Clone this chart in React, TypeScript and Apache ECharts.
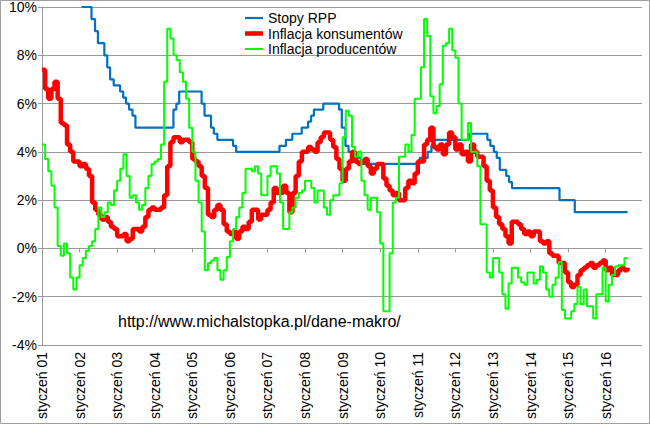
import React, { useEffect, useRef } from 'react';
import * as echarts from 'echarts';

// ---- data -------------------------------------------------------------
const startYear = 2001;

const yearLabels = [
  'styczeń 01', 'styczeń 02', 'styczeń 03', 'styczeń 04', 'styczeń 05', 'styczeń 06',
  'styczeń 07', 'styczeń 08', 'styczeń 09', 'styczeń 10', 'styczeń 11', 'styczeń 12',
  'styczeń 13', 'styczeń 14', 'styczeń 15', 'styczeń 16',
];

const seriesNames = ['Stopy RPP', 'Inflacja konsumentów', 'Inflacja producentów'];

// NBP reference rate: dates of change and new level (%)
const rateDates = [
  '2001-01-01', '2001-02-28', '2001-03-29', '2001-06-28', '2001-08-23', '2001-10-26', '2001-11-29',
  '2002-01-31', '2002-04-25', '2002-05-30', '2002-06-27', '2002-08-29', '2002-09-26', '2002-10-24',
  '2002-11-28', '2003-01-30', '2003-02-27', '2003-03-27', '2003-04-25', '2003-05-29', '2003-06-26',
  '2004-06-30', '2004-07-29', '2004-08-26', '2005-03-31', '2005-04-28', '2005-06-30', '2005-07-28',
  '2005-09-01', '2006-02-01', '2006-03-01', '2007-04-26', '2007-06-28', '2007-08-30', '2007-11-29',
  '2008-01-31', '2008-02-28', '2008-03-27', '2008-06-26', '2008-11-27', '2008-12-24', '2009-01-29',
  '2009-02-26', '2009-03-26', '2009-06-25', '2011-01-20', '2011-04-06', '2011-05-12', '2011-06-09',
  '2012-05-10', '2012-11-08', '2012-12-06', '2013-01-10', '2013-02-07', '2013-03-07', '2013-05-09',
  '2013-06-06', '2013-07-04', '2014-10-09', '2015-03-05', '2016-08-01',
];
const rateValues = [
  19.0, 18.0, 17.0, 15.5, 14.5, 13.0, 11.5,
  10.0, 9.5, 9.0, 8.5, 8.0, 7.5, 7.0,
  6.75, 6.5, 6.25, 6.0, 5.75, 5.5, 5.0,
  5.75, 6.0, 6.5, 6.0, 5.5, 5.0, 4.75,
  4.5, 4.25, 4.0, 4.25, 4.5, 4.75, 5.0,
  5.25, 5.5, 5.75, 6.0, 5.75, 5.0, 4.25,
  4.0, 3.75, 3.5, 3.75, 4.0, 4.25, 4.5,
  4.75, 4.5, 4.25, 4.0, 3.75, 3.25, 3.0,
  2.75, 2.5, 2.0, 1.5, 1.5,
];

// CPI y/y, monthly from January 2001
const cpi = [
  7.4, 6.6, 6.2, 6.6, 6.9, 6.2, 5.2, 5.1, 4.3, 4.0, 3.6, 3.6,
  3.4, 3.5, 3.3, 3.0, 1.9, 1.6, 1.4, 1.2, 1.3, 1.1, 0.9, 0.8,
  0.5, 0.5, 0.6, 0.3, 0.4, 0.8, 0.8, 0.7, 0.9, 1.3, 1.6, 1.7,
  1.6, 1.6, 1.7, 2.2, 3.4, 4.4, 4.6, 4.6, 4.4, 4.5, 4.5, 4.4,
  3.7, 3.6, 3.4, 3.0, 2.5, 1.4, 1.3, 1.6, 1.8, 1.6, 1.0, 0.7,
  0.6, 0.7, 0.4, 0.7, 0.9, 0.8, 1.1, 1.6, 1.6, 1.2, 1.4, 1.4,
  1.6, 1.9, 2.5, 2.3, 2.3, 2.6, 2.3, 1.5, 2.3, 3.0, 3.6, 4.0,
  4.0, 4.2, 4.1, 4.0, 4.4, 4.6, 4.8, 4.8, 4.5, 4.2, 3.7, 3.3,
  2.8, 3.3, 3.6, 4.0, 3.6, 3.5, 3.6, 3.7, 3.4, 3.1, 3.3, 3.5,
  3.5, 2.9, 2.6, 2.4, 2.2, 2.3, 2.0, 2.0, 2.5, 2.8, 2.7, 3.1,
  3.6, 3.6, 4.3, 4.5, 5.0, 4.2, 4.1, 4.3, 3.9, 4.3, 4.8, 4.6,
  4.1, 4.3, 3.9, 4.0, 3.6, 4.3, 4.0, 3.8, 3.8, 3.4, 2.8, 2.4,
  1.7, 1.3, 1.0, 0.8, 0.5, 0.2, 1.1, 1.1, 1.0, 0.8, 0.6, 0.7,
  0.5, 0.7, 0.7, 0.3, 0.2, 0.3, -0.2, -0.3, -0.3, -0.6, -0.6, -1.0,
  -1.4, -1.6, -1.5, -1.1, -0.9, -0.8, -0.7, -0.6, -0.8, -0.7, -0.6, -0.5,
  -0.9, -0.8, -1.1, -1.1, -0.9, -0.8, -0.9, -0.8,
];

// PPI y/y, monthly from January 2001
const ppi = [
  4.3, 3.7, 3.2, 2.6, 1.7, 0.1, -0.3, 0.2, -0.2, -1.2, -1.7, -1.2,
  -0.7, -0.4, -0.1, 0.1, 0.3, 0.8, 1.7, 1.3, 1.5, 1.9, 1.8, 2.4,
  2.8, 3.3, 3.9, 3.0, 2.1, 2.2, 1.9, 1.6, 1.8, 2.5, 3.0, 3.5,
  3.6, 3.7, 4.3, 6.9, 9.1, 8.7, 8.0, 7.8, 7.3, 6.9, 6.2, 5.0,
  4.0, 2.8, 1.9, 0.7, -0.9, -0.6, -0.5, -0.4, -0.9, -1.3, -0.9, -0.35,
  0.3, 0.8, 1.3, 1.7, 2.3, 3.3, 3.3, 3.2, 3.4, 3.1, 2.2, 2.2,
  3.0, 3.4, 3.4, 3.1, 1.9, 0.8, 0.8, 1.5, 1.7, 2.1, 2.3, 2.4,
  2.8, 2.8, 2.5, 1.9, 2.4, 2.4, 1.7, 1.4, 2.0, 2.2, 2.2, 2.7,
  4.6, 5.7, 5.5, 4.2, 3.8, 4.0, 2.8, 2.2, 1.6, 2.1, 2.1, 1.5,
  0.2, -2.6, -2.6, -0.2, 1.9, 2.1, 3.8, 3.8, 4.3, 4.0, 4.7, 6.2,
  6.2, 7.5, 9.5, 8.8, 6.3, 5.6, 5.9, 6.8, 8.4, 8.5, 9.1, 8.2,
  7.9, 6.0, 4.5, 4.5, 5.2, 4.0, 4.0, 3.4, 1.0, 1.0, -1.0, -1.2,
  -0.4, -0.4, -1.0, -1.9, -2.5, -1.45, -0.8, -0.8, -1.2, -1.4, -1.5, -1.0,
  -1.0, -1.45, -1.3, -0.75, -1.0, -1.7, -2.0, -1.5, -1.2, -0.56, -2.55, -2.9,
  -2.9, -2.6, -2.3, -1.6, -2.3, -1.7, -2.4, -2.4, -2.9, -1.9, -1.9, -0.8,
  -2.2, -1.5, -1.1, -0.75, -0.7, -0.7, -0.4, -0.4,
];

const URL_TEXT = 'http://www.michalstopka.pl/dane-makro/';

// ---- helpers ----------------------------------------------------------
function monthIndex(date: string): number {
  const [y, m, d] = date.split('-').map(Number);
  const daysInMonth = new Date(y, m, 0).getDate();
  return (y - startYear) * 12 + (m - 1) + (d - 1) / daysInMonth;
}

const FONT = '"Liberation Sans", Arial, sans-serif';
const GRID_COLOR = '#9a9a9a';
const COLORS = ['#0070C0', '#FF0000', '#00FF00'];
const WIDTHS = [2.2, 4.5, 2];

export default function App() {
  const ref = useRef<HTMLDivElement>(null);

  useEffect(() => {
    document.body.style.margin = '0';
    const el = ref.current;
    if (!el) return;
    const chart = echarts.init(el, null, { renderer: 'svg' });

    const tickVals = yearLabels.map((_, i) => i * 12);
    const rateData = rateDates.map((d, i) => [monthIndex(d), rateValues[i]]);
    const cpiData = cpi.map((v, i) => [i, v]);
    const ppiData = ppi.map((v, i) => [i, v]);
    const datasets = [rateData, cpiData, ppiData];

    chart.setOption({
      animation: false,
      textStyle: { fontFamily: FONT },
      grid: { left: 42, right: 8, top: 7, bottom: 79, containLabel: false },
      xAxis: [
        {
          type: 'value',
          min: 0,
          max: 191.6,
          position: 'bottom',
          axisLine: { show: true, onZero: true, lineStyle: { color: GRID_COLOR, width: 1 } },
          axisTick: { show: true, customValues: tickVals, length: 4, lineStyle: { color: GRID_COLOR } },
          axisLabel: { show: false },
          splitLine: { show: false },
        },
        {
          type: 'value',
          min: 0,
          max: 191.6,
          position: 'bottom',
          axisLine: { show: false, onZero: false },
          axisTick: { show: false },
          axisLabel: {
            show: true,
            customValues: tickVals,
            rotate: 90,
            margin: 7,
            fontSize: 14,
            color: '#000',
            fontFamily: FONT,
            formatter: (v: number) => yearLabels[Math.round(v / 12)] ?? '',
          },
          splitLine: { show: false },
        },
      ],
      yAxis: {
        type: 'value',
        min: -4,
        max: 10,
        interval: 2,
        axisLine: { show: true, lineStyle: { color: GRID_COLOR, width: 1 } },
        axisTick: { show: true, length: 4, lineStyle: { color: GRID_COLOR } },
        axisLabel: { formatter: '{value}%', fontSize: 14, color: '#000', margin: 5, fontFamily: FONT },
        splitLine: { show: true, lineStyle: { color: GRID_COLOR, width: 1 } },
      },
      legend: seriesNames.map((name, i) => ({
        data: [name],
        left: 245,
        top: 11 + i * 15.5,
        padding: 0,
        orient: 'vertical',
        icon: 'rect',
        itemWidth: 18,
        itemHeight: WIDTHS[i],
        selectedMode: false,
        textStyle: { fontSize: 14, color: '#000', fontFamily: FONT },
      })),
      graphic: [
        {
          type: 'text',
          left: 118,
          top: 313,
          silent: true,
          style: { text: URL_TEXT, fill: '#000', font: `16px ${FONT}` },
        },
        {
          type: 'rect',
          silent: true,
          z: 100,
          shape: { x: 0.5, y: 0.5, width: 649, height: 423 },
          style: { fill: 'none', stroke: '#a0a0a0', lineWidth: 1 },
        },
      ],
      series: seriesNames.map((name, i) => ({
        name,
        type: 'line',
        xAxisIndex: 0,
        yAxisIndex: 0,
        step: 'end',
        symbol: 'none',
        showSymbol: false,
        clip: true,
        color: COLORS[i],
        lineStyle: { color: COLORS[i], width: WIDTHS[i] },
        data: datasets[i],
        z: 2 + i,
      })),
    });

    return () => chart.dispose();
  }, []);

  return <div ref={ref} style={{ width: 650, height: 424 }} />;
}
